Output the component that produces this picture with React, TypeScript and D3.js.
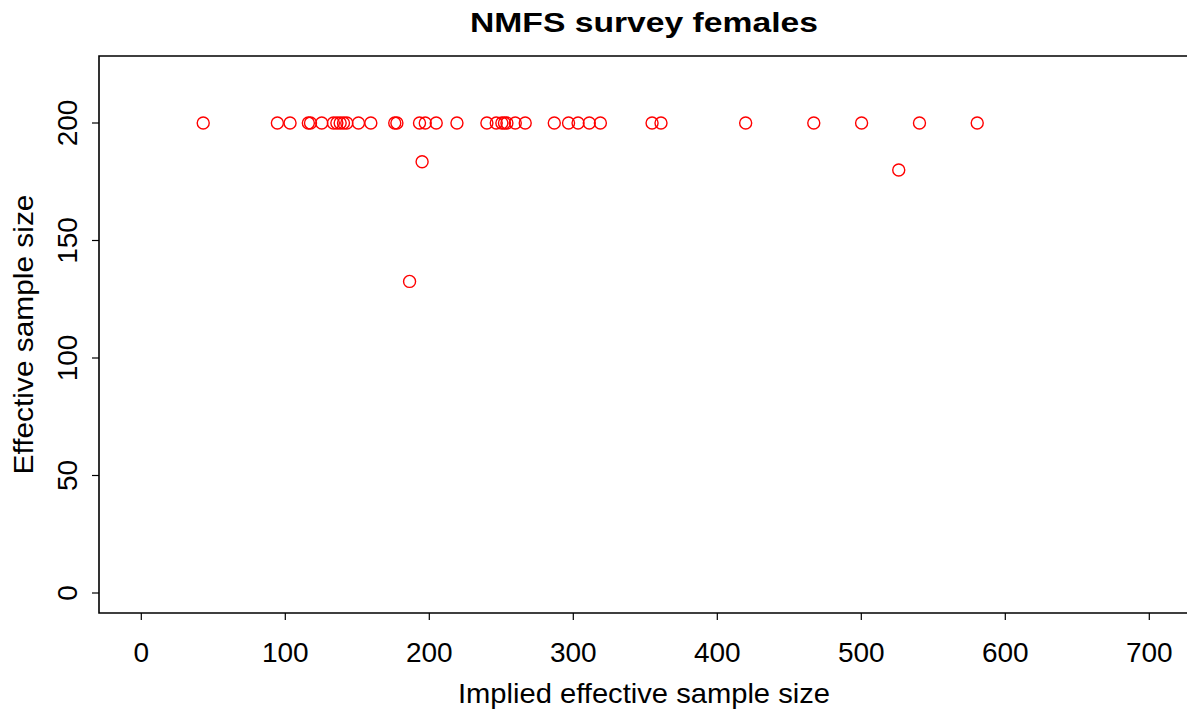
import React from "react";
import * as d3 from "d3";

const impliedN: number[] = [
  43, 94.5, 103.3, 116, 117.5, 125.3, 133.4, 135.8, 138.1, 140.4, 142.7, 150.8, 159.4,
  176, 177.5, 193.2, 197.2, 204.8, 219.2, 240, 246.5, 250.4, 252.2, 253.9, 259.7, 266.6,
  286.8, 296.7, 303.3, 311.1, 318.8, 354.7, 360.9, 419.7, 467, 500.2, 540.4, 580.5,
  195, 186.3, 526,
];
const effN: number[] = [
  200, 200, 200, 200, 200, 200, 200, 200, 200, 200, 200, 200, 200,
  200, 200, 200, 200, 200, 200, 200, 200, 200, 200, 200, 200, 200,
  200, 200, 200, 200, 200, 200, 200, 200, 200, 200, 200, 200,
  183.5, 132.6, 180,
];
const xTicks = [0, 100, 200, 300, 400, 500, 600, 700];
const yTicks = [0, 50, 100, 150, 200];

const W = 1187;
const H = 711;
const FONT = "'Liberation Sans', Arial, sans-serif";

export default function App() {
  const x = d3.scaleLinear().domain([0, 700]).range([141.3, 1149.3]);
  const y = d3.scaleLinear().domain([0, 200]).range([593, 123]);
  const top = 56, bottom = 613, left = 99, right = 1190;
  return (
    <svg width={W} height={H} style={{ position: "absolute", left: 0, top: 0, background: "#fff" }}>
      <rect x={0} y={0} width={W} height={H} fill="#fff" />
      <text x={644} y={32} textAnchor="middle" fontFamily={FONT} fontWeight="bold" fontSize={28}
        textLength={348} lengthAdjust="spacingAndGlyphs">
        NMFS survey females
      </text>
      <path d={`M${right},${top}H${left}V${bottom}H${right}`} fill="none" stroke="#000" strokeWidth={1.6} />
      {xTicks.map((t) => (
        <g key={"x" + t}>
          <line x1={x(t)} x2={x(t)} y1={bottom} y2={bottom + 7} stroke="#000" strokeWidth={1.2} />
          <text x={x(t)} y={661.5} textAnchor="middle" fontFamily={FONT} fontSize={28}>{t}</text>
        </g>
      ))}
      {yTicks.map((t) => (
        <g key={"y" + t}>
          <line x1={left - 7} x2={left} y1={y(t)} y2={y(t)} stroke="#000" strokeWidth={1.2} />
          <text transform={`translate(77,${y(t)}) rotate(-90)`} textAnchor="middle" fontFamily={FONT} fontSize={28}>{t}</text>
        </g>
      ))}
      <text x={644} y={703} textAnchor="middle" fontFamily={FONT} fontSize={28}
        textLength={372} lengthAdjust="spacingAndGlyphs">Implied effective sample size</text>
      <text transform={`translate(33,${(top + bottom) / 2}) rotate(-90)`} textAnchor="middle" fontFamily={FONT} fontSize={28}
        textLength={280} lengthAdjust="spacingAndGlyphs">
        Effective sample size
      </text>
      {impliedN.map((v, i) => (
        <circle key={i} cx={x(v)} cy={y(effN[i])} r={6} fill="none" stroke="#ff0000" strokeWidth={1.4} />
      ))}
    </svg>
  );
}
